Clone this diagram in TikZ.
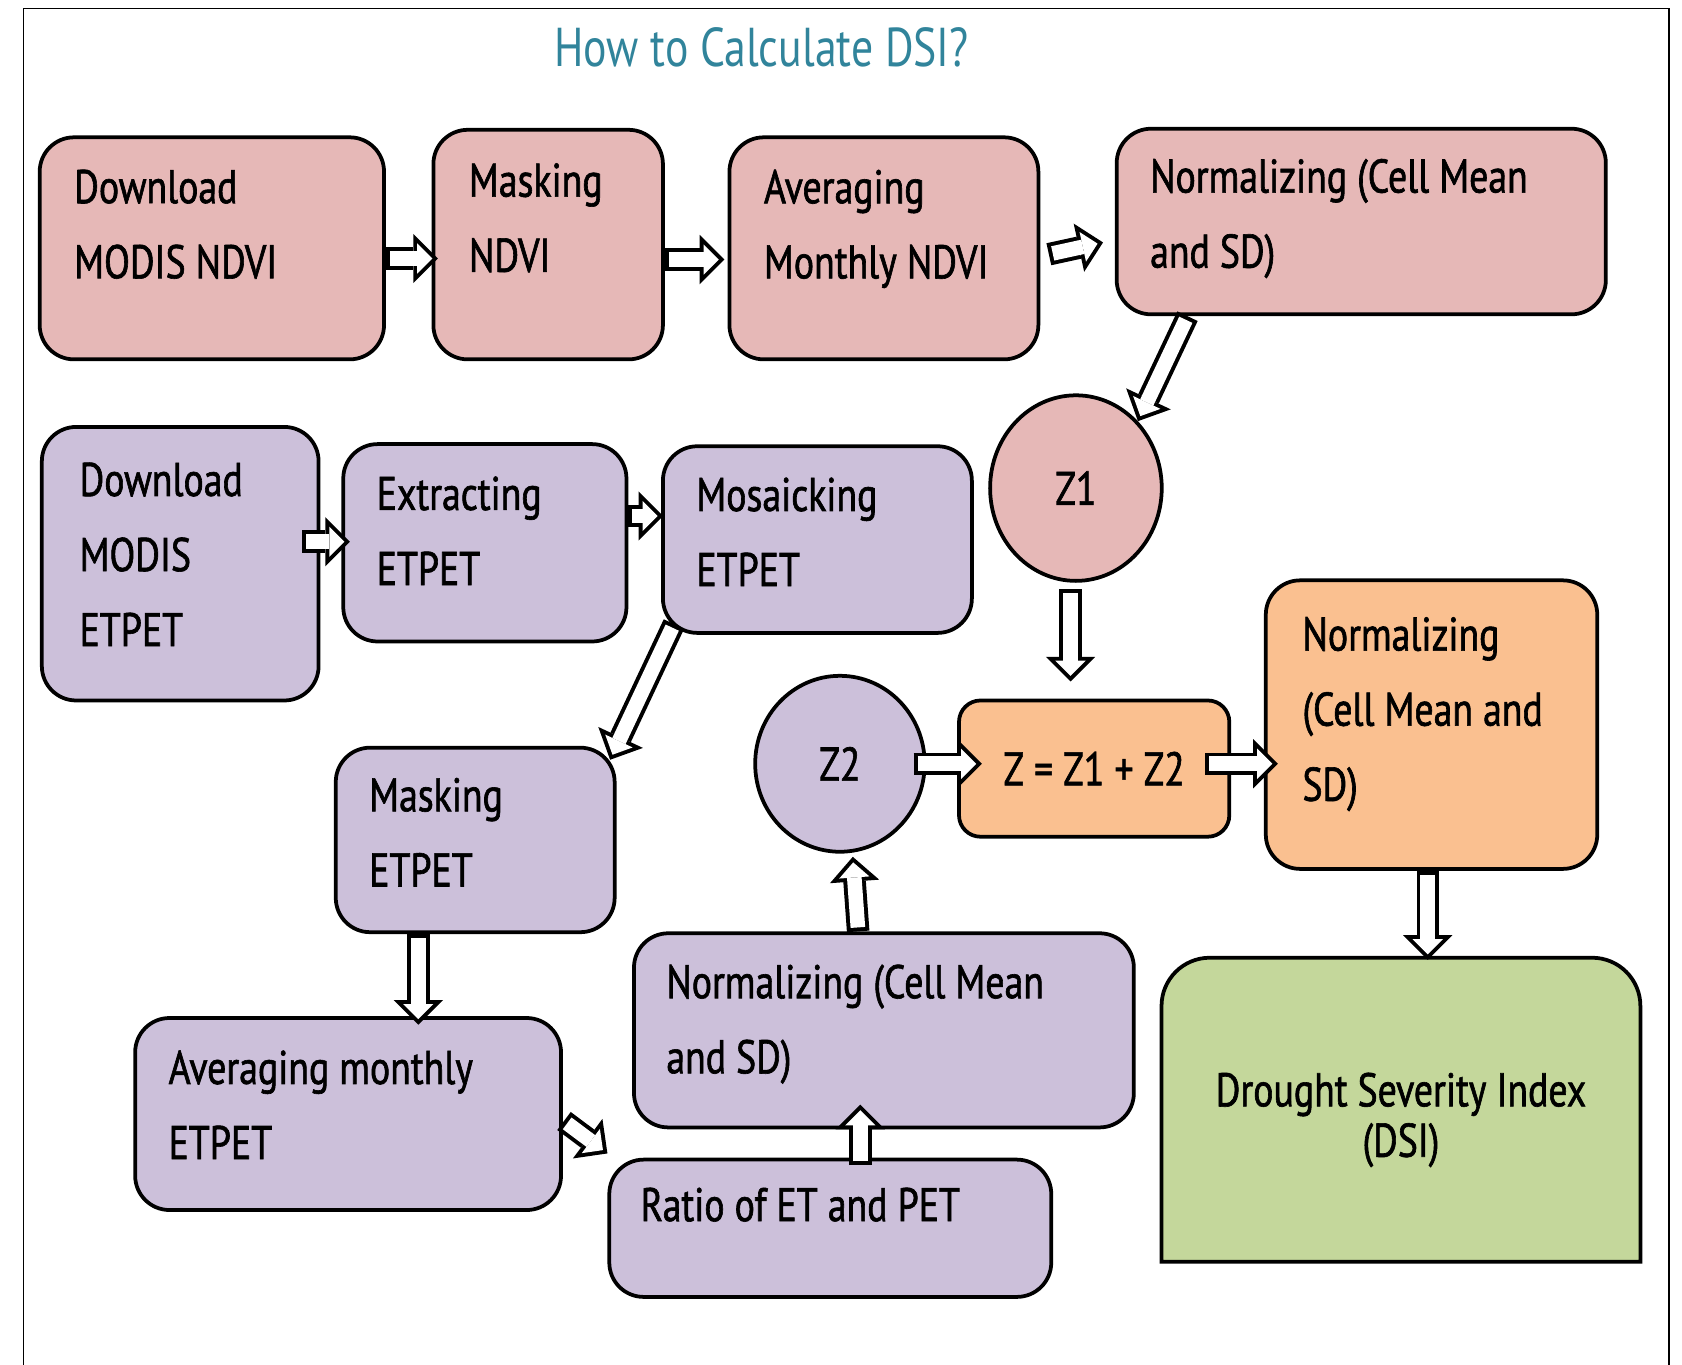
\documentclass[tikz,border=0pt]{standalone}
\usepackage{fontspec}
\setmainfont[FakeStretch=0.8]{PT Sans}
\newfontfamily\boxfont[FakeStretch=0.8, FakeBold=1.3]{PT Sans}
\usetikzlibrary{positioning, shapes.geometric, arrows.meta, backgrounds}
\definecolor{ndvipink}{HTML}{E6B8B7}
\definecolor{etpurple}{HTML}{CCC0DA}
\definecolor{zorange}{HTML}{FAC090}
\definecolor{dsigreen}{HTML}{C4D79B}
\definecolor{titleteal}{HTML}{31849B}

\newcommand{\hollowarrow}[2]{%
  \draw[arrowout] #1 -- #2;
  \draw[arrowin] #1 -- #2;}

\begin{document}
\begin{tikzpicture}[x=1pt, y=-1pt,
    box/.style={draw, line width=3.5pt, rounded corners=32pt, inner sep=0pt},
    pinkbox/.style={box, fill=ndvipink},
    purplebox/.style={box, fill=etpurple},
    orangebox/.style={box, fill=zorange},
    circ/.style={draw, ellipse, line width=3.5pt, inner sep=0pt, font=\boxfont\fontsize{44}{70}\selectfont},
    txt/.style={anchor=north west, align=left, inner sep=0pt, font=\boxfont\fontsize{44}{70}\selectfont},
    arrowout/.style={line width=21pt, -{Triangle[length=23pt, width=46pt, line width=0pt]}},
    arrowin/.style={white, line width=13.6pt, shorten <=3.7pt, shorten >=5.2pt,
        -{Triangle[length=14.1pt, width=28.2pt, line width=0pt]}}
    ]
\useasboundingbox (0,0) rectangle (1568,1272);
\draw[line width=1.5pt] (22,1272) -- (22,8) -- (1556,8) -- (1556,1272);
\node[font=\fontsize{51}{60}\selectfont, text=titleteal] (title) at (710,44) {How to Calculate DSI?};

% NDVI
\node[pinkbox, minimum width=321pt, minimum height=207pt] (dlndvi) at (197.5,231.5) {};
\node[pinkbox, minimum width=214pt, minimum height=214pt] (maskndvi) at (511,228) {};
\node[pinkbox, minimum width=288pt, minimum height=207pt] (avgndvi) at (824,231.5) {};
\node[pinkbox, minimum width=456pt, minimum height=173pt] (normndvi) at (1269,206.5) {};
\node[txt] (dlndvi-t) at (69,158) {Download\\MODIS NDVI};
\node[txt] (maskndvi-t) at (437,152) {Masking\\NDVI};
\node[txt] (avgndvi-t) at (712,158) {Averaging\\Monthly NDVI};
\node[txt] (normndvi-t) at (1072,148) {Normalizing (Cell Mean\\and SD)};
\node[circ, fill=ndvipink, minimum width=160pt, minimum height=173pt] (zone) at (1003,455) {Z1};

% ETPET
\node[purplebox, minimum width=258pt, minimum height=255pt] (dlet) at (168,525.5) {};
\node[purplebox, minimum width=264pt, minimum height=184pt] (extet) at (452,506) {};
\node[purplebox, minimum width=288pt, minimum height=174pt] (mosaet) at (762,503) {};
\node[purplebox, minimum width=260pt, minimum height=172pt] (masket) at (443,783) {};
\node[purplebox, minimum width=397pt, minimum height=179pt] (avget) at (324.5,1038.5) {};
\node[purplebox, minimum width=412pt, minimum height=128pt] (ratio) at (774,1145) {};
\node[purplebox, minimum width=466pt, minimum height=181pt] (normet) at (824,960.5) {};
\node[txt] (dlet-t) at (74,431) {Download\\MODIS\\ETPET};
\node[txt] (extet-t) at (351,444) {Extracting\\ETPET};
\node[txt] (mosaet-t) at (649,445) {Mosaicking\\ETPET};
\node[txt] (masket-t) at (344,725) {Masking\\ETPET};
\node[txt] (avget-t) at (157,979) {Averaging monthly\\ETPET};
\node[txt] (ratio-t) at (597,1107) {Ratio of ET and PET};
\node[txt] (normet-t) at (621,899) {Normalizing (Cell Mean\\and SD)};
\node[circ, fill=etpurple, minimum width=158pt, minimum height=164pt] (ztwo) at (783,712) {Z2};

% Z and DSI
\node[orangebox, rounded corners=20pt, minimum width=252pt, minimum height=127pt,
    font=\boxfont\fontsize{44}{70}\selectfont] (zsum) at (1020,716.5) {Z = Z1 + Z2};
\node[orangebox, minimum width=309pt, minimum height=269pt] (normz) at (1334.5,675.5) {};
\node[txt] (normz-t) at (1214,575) {Normalizing\\(Cell Mean and\\SD)};
\node[minimum width=446pt, minimum height=283pt, inner sep=0pt] (dsi) at (1306,1034.5) {};
\node[align=center, inner sep=0pt, font=\boxfont\fontsize{44}{47}\selectfont] (dsi-t) at (1306,1044) {Drought Severity Index\\(DSI)};
\begin{scope}[on background layer]
\draw[line width=3.5pt, fill=dsigreen] (dsi.south west) [rounded corners=45pt] -- (dsi.north west)
    -- (dsi.north east) [sharp corners] -- (dsi.south east) -- cycle;
\end{scope}

\hollowarrow{([yshift=-9.5pt]dlndvi.east)}{([xshift=6pt,yshift=-13pt]maskndvi.west)}
\hollowarrow{([yshift=-14pt]maskndvi.east)}{([xshift=-3pt,yshift=-10.5pt]avgndvi.west)}
\hollowarrow{([xshift=8pt,yshift=-5.5pt]avgndvi.east)}{([xshift=-11pt,yshift=-19.5pt]normndvi.west)}
\hollowarrow{([xshift=-162pt]normndvi.south)}{(zone.north east)}
\hollowarrow{([xshift=-5pt,yshift=-6pt]zone.south)}{([xshift=-22pt,yshift=16pt]zsum.north)}
\hollowarrow{([xshift=-17pt,yshift=20.5pt]dlet.east)}{([xshift=8pt,yshift=1pt]extet.west)}
\hollowarrow{([yshift=25pt]extet.east)}{([xshift=2pt,yshift=22pt]mosaet.west)}
\hollowarrow{([xshift=12pt,yshift=10pt]mosaet.south west)}{([xshift=-6pt,yshift=-13pt]masket.north east)}
\hollowarrow{([xshift=-53pt]masket.south)}{([xshift=65.5pt,yshift=-8pt]avget.north)}
\hollowarrow{([xshift=1pt,yshift=-6.5pt]avget.east)}{([yshift=4pt]ratio.north west)}
\hollowarrow{([xshift=28pt,yshift=-7pt]ratio.north)}{([xshift=-22pt,yshift=23pt]normet.south)}
\hollowarrow{([xshift=-24pt]normet.north)}{([xshift=12pt,yshift=-3pt]ztwo.south)}
\hollowarrow{([xshift=-12pt]ztwo.east)}{([xshift=23pt,yshift=4.5pt]zsum.west)}
\hollowarrow{([xshift=-24pt,yshift=4.5pt]zsum.east)}{([xshift=13pt,yshift=-36.5pt]normz.west)}
\hollowarrow{([xshift=-3.5pt]normz.south)}{([xshift=25pt,yshift=-2pt]dsi.north)}
\end{tikzpicture}
\end{document}
